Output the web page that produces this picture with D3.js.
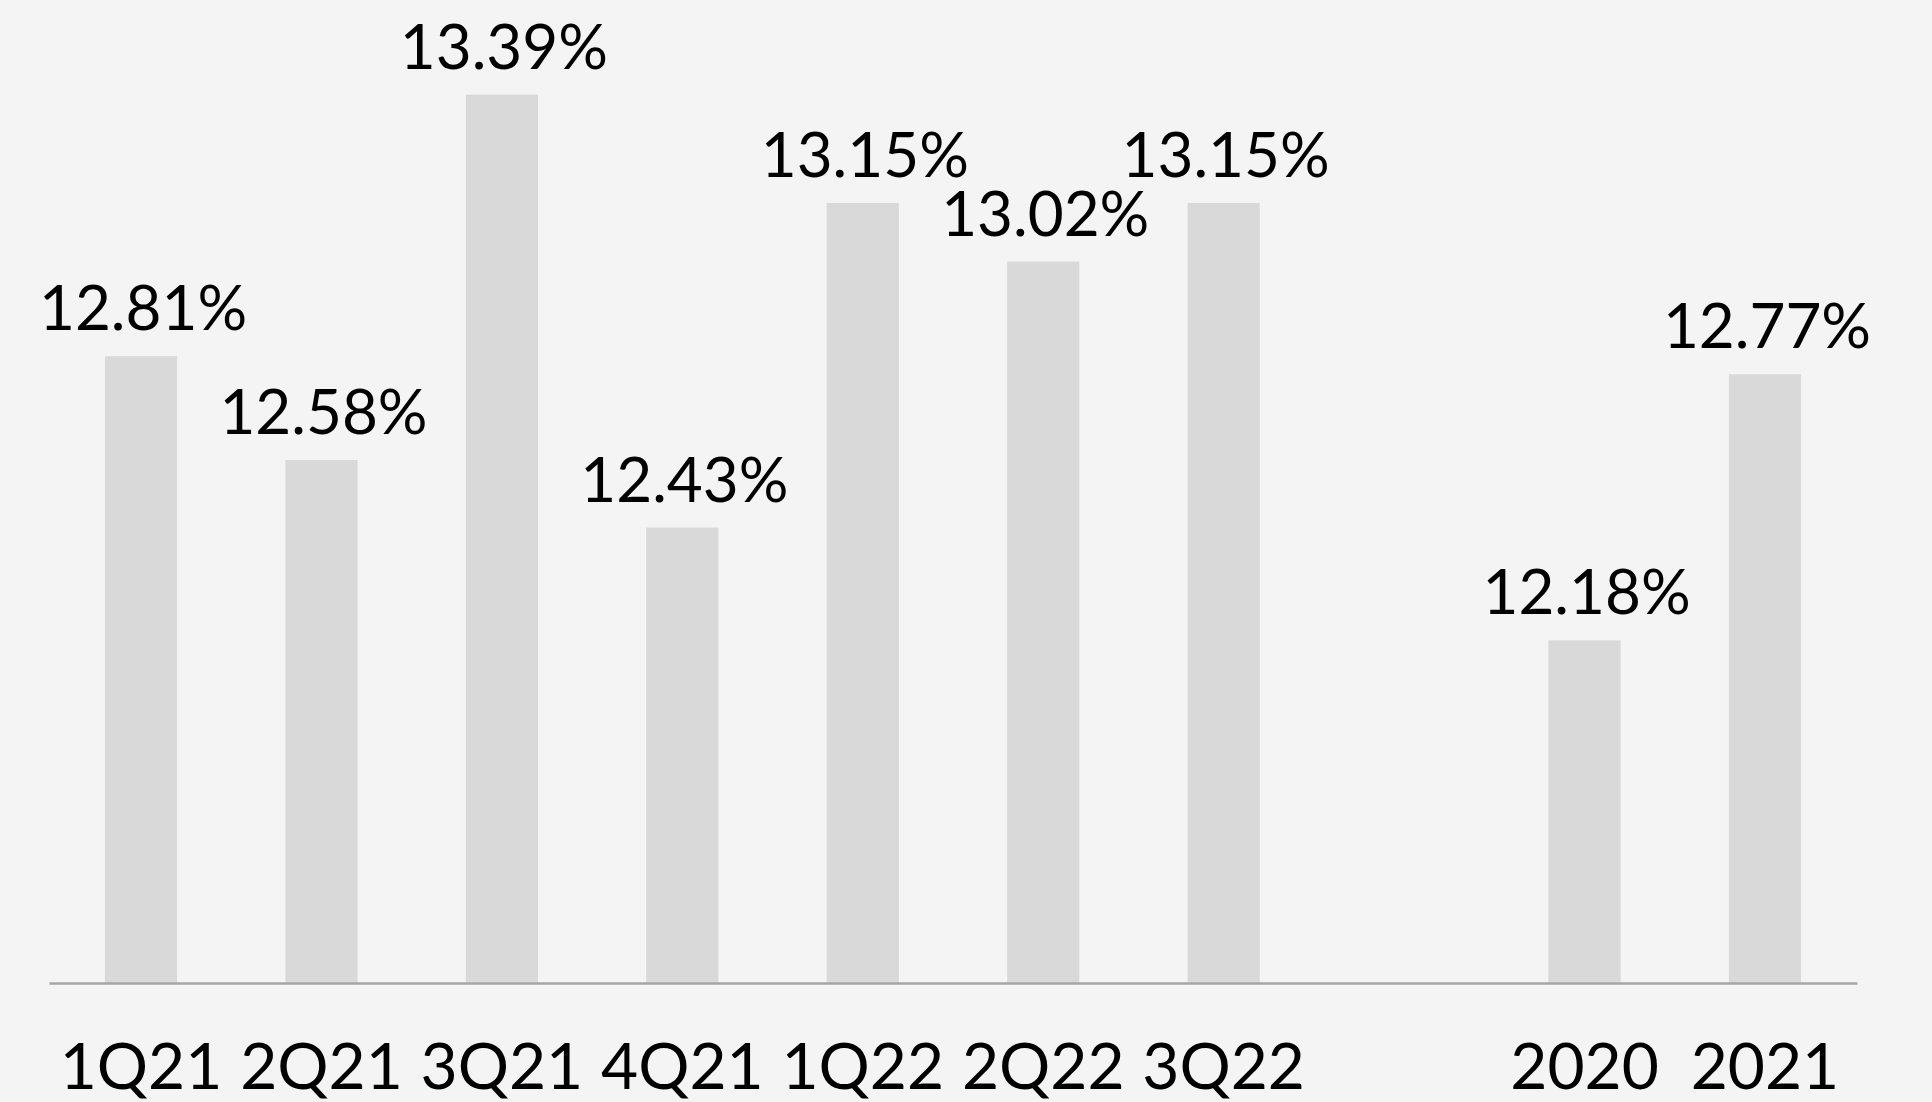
<!DOCTYPE html>
<html>
<head>
<meta charset="utf-8">
<script src="https://cdn.jsdelivr.net/npm/d3@7"></script>
<style>
  html, body { margin: 0; padding: 0; background: #f4f4f4; }
  svg { display: block; }
</style>
</head>
<body>
<svg id="chart" width="1932" height="1102"></svg>
<script>
const categories = ["1Q21", "2Q21", "3Q21", "4Q21", "1Q22", "2Q22", "3Q22", "gap", "2020", "2021"];
const values = [12.81, 12.58, 13.39, 12.43, 13.15, 13.02, 13.15, null, 12.18, 12.77];
const valueLabels = ["12.81%", "12.58%", "13.39%", "12.43%", "13.15%", "13.02%", "13.15%", "", "12.18%", "12.77%"];
const tickLabels = ["1Q21", "2Q21", "3Q21", "4Q21", "1Q22", "2Q22", "3Q22", "", "2020", "2021"];

const svg = d3.select("#chart");
const W = 1932, H = 1102;
svg.append("rect").attr("width", W).attr("height", H).attr("fill", "#f4f4f4");

const baseY = 983;
const x = d3.scaleBand().domain(categories).range([49, 1857]).paddingInner(0.6).paddingOuter(0.31);
const y = d3.scaleLinear().domain([11.42, 13.6]).range([baseY, 0]);

const data = categories.map((c, i) => ({ c, v: values[i], label: valueLabels[i], tick: tickLabels[i] }))
  .filter(d => d.v !== null);

svg.append("g").selectAll("rect").data(data).join("rect")
  .attr("x", d => x(d.c))
  .attr("width", x.bandwidth())
  .attr("y", d => y(d.v))
  .attr("height", d => baseY - y(d.v))
  .attr("fill", "#d9d9d9");

svg.append("g").selectAll("text").data(data).join("text")
  .attr("x", d => x(d.c) + x.bandwidth() / 2 + 2)
  .attr("y", d => y(d.v) - 26)
  .attr("text-anchor", "middle")
  .attr("font-family", "Lato, 'Open Sans', sans-serif")
  .attr("font-size", 62)
  .attr("fill", "#000")
  .text(d => d.label);

const axis = d3.axisBottom(x).tickSize(0).tickSizeOuter(0)
  .tickFormat(c => tickLabels[categories.indexOf(c)]);
const gAxis = svg.append("g").attr("transform", `translate(0,${baseY})`).call(axis);
gAxis.select(".domain").attr("stroke", "#a6a6a6").attr("stroke-width", 2.5);
gAxis.selectAll(".tick text")
  .attr("y", 106)
  .attr("dy", 0)
  .attr("font-family", "Lato, 'Open Sans', sans-serif")
  .attr("font-size", 64)
  .attr("fill", "#000");
</script>
</body>
</html>
